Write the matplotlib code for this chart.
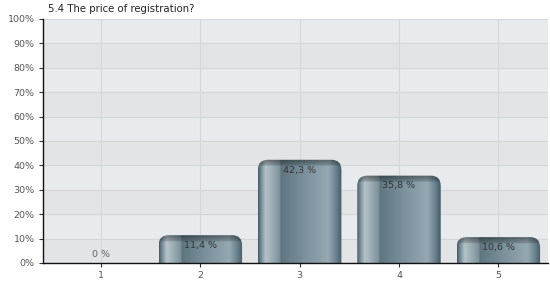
import numpy as np
import matplotlib
matplotlib.use('Agg')
import matplotlib.pyplot as plt
from matplotlib.path import Path
from matplotlib.patches import PathPatch

# data
categories = ['1', '2', '3', '4', '5']
values = [0.0, 11.4, 42.3, 35.8, 10.6]
labels = ['0 %', '11,4 %', '42,3 %', '35,8 %', '10,6 %']
title = '5.4 The price of registration?'

W, H = 550, 282
fig = plt.figure(figsize=(W / 100, H / 100), dpi=100)
ax = fig.add_axes([43 / W, 19 / H, 505 / W, 244 / H])

x = np.arange(1, len(categories) + 1)
xmin, xmax = 0.416, 5.5
ax.set_xlim(xmin, xmax)
ax.set_ylim(0, 100)

# alternating bands
ax.set_facecolor('#e8ebee')
for k in range(10):
    if k % 2 == 0:
        ax.axhspan(k * 10, k * 10 + 10, color='#e3e4e6', zorder=0, lw=0)
for k in range(1, 11):
    ax.axhline(k * 10, color='#d4d6d9', lw=0.8, zorder=1)
for xi in x:
    ax.axvline(xi, color='#d4d6d9', lw=0.8, zorder=1)

# horizontal colour profile of a bar
stops = [0.0, 0.03, 0.09, 0.15, 0.26, 0.27, 0.55, 0.84, 0.93, 1.0]
cols = ['#455a64', '#6f858f', '#b5c3c9', '#a2b2b9', '#7c919b', '#5f7680',
        '#7a909b', '#95a9b2', '#6b8290', '#455a64']
rgb = np.array([matplotlib.colors.to_rgb(c) for c in cols])
t = np.linspace(0, 1, 200)
prof = np.stack([np.interp(t, stops, rgb[:, i]) for i in range(3)], axis=-1)

px_x = 505 / (xmax - xmin)
px_y = 244 / 100.0
bw = 0.84
rx, ry = 10 / px_x, 10 / px_y
cap = 6 / px_y

def bar_path(x0, x1, top):
    verts = [(x0, 0), (x0, top - ry), (x0, top), (x0 + rx, top),
             (x1 - rx, top), (x1, top), (x1, top - ry), (x1, 0), (x0, 0)]
    codes = [Path.MOVETO, Path.LINETO, Path.CURVE3, Path.CURVE3,
             Path.LINETO, Path.CURVE3, Path.CURVE3, Path.LINETO, Path.CLOSEPOLY]
    return Path(verts, codes)

for xi, v in zip(x, values):
    if v <= 0:
        continue
    x0, x1 = xi - bw / 2, xi + bw / 2
    nrow = 80
    img = np.repeat(prof[None, :, :], nrow, axis=0)
    # darker cap at the top
    ys = np.linspace(v, 0, nrow)
    for r, yv in enumerate(ys):
        d = v - yv
        if d < cap:
            f = 0.6 + 0.25 * (d / cap)
            img[r] = prof * f
    patch = PathPatch(bar_path(x0, x1, v), facecolor='none', edgecolor='none')
    ax.add_patch(patch)
    im = ax.imshow(img, extent=[x0, x1, 0, v], aspect='auto', zorder=3,
                   interpolation='bilinear')
    im.set_clip_path(patch)

for xi, v, lab in zip(x, values, labels):
    if v <= 0:
        ax.text(xi, 3.5, lab, ha='center', va='center', fontsize=6.8, color='#666666', zorder=5)
    else:
        ax.text(xi, v - 4.2, lab, ha='center', va='center', fontsize=6.8, color='#333333', zorder=5)

ax.set_xticks(x)
ax.set_xticklabels(categories)
ax.set_yticks(np.arange(0, 101, 10))
ax.set_yticklabels(['%d%%' % v for v in range(0, 101, 10)])
ax.tick_params(axis='both', labelsize=6.8, labelcolor='#555555', color='#333333',
               length=3, width=0.8, pad=3)
for s in ['top', 'right']:
    ax.spines[s].set_visible(False)
ax.spines['left'].set_color('#111111')
ax.spines['bottom'].set_color('#111111')
ax.spines['left'].set_linewidth(1.0)
ax.spines['bottom'].set_linewidth(1.0)
ax.spines['left'].set_zorder(6)
ax.spines['bottom'].set_zorder(6)

fig.text(48 / W, 1 - 9 / H, title, fontsize=7.3, color='#222222', va='center', ha='left')

fig.savefig('out.png', dpi=100)
